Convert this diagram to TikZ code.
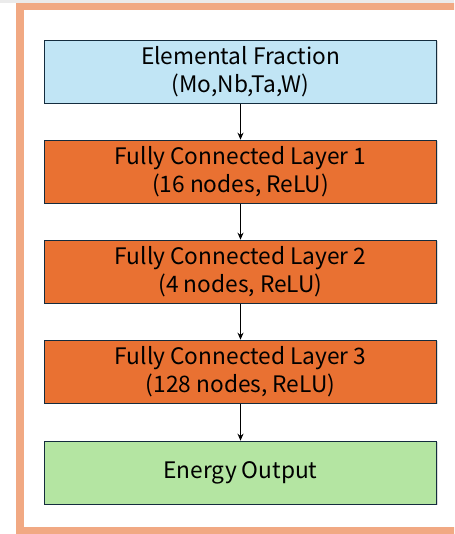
\documentclass[tikz,border=0pt]{standalone}
\usepackage{fontspec}
\setmainfont{Noto Sans CJK JP}
\usetikzlibrary{arrows.meta,shadows}

\definecolor{inputblue}{HTML}{C1E5F5}
\definecolor{layerorange}{HTML}{E97132}
\definecolor{outputgreen}{HTML}{B4E5A2}
\definecolor{framesalmon}{HTML}{F1A983}
\definecolor{edgenavy}{HTML}{142C3E}

\tikzset{
  layerbox/.style={draw=edgenavy, line width=1.6pt, minimum width=392pt,
    minimum height=63pt, align=center, font=\fontsize{22.7}{28}\selectfont,
    text=black, drop shadow={shadow xshift=1.8pt, shadow yshift=-0.6pt,
    opacity=0.35, fill=black!40}},
  flow/.style={-{Stealth[length=7pt,width=6pt]}, line width=1.1pt, black}
}

\begin{document}
\begin{tikzpicture}[x=1pt,y=-1pt]
\useasboundingbox (0,0) rectangle (454,534);
\begin{scope}
\clip (0,0) rectangle (454,534);
% outer frame
\fill[black!8] (0,0) rectangle (454,3);
\draw[framesalmon, line width=7.5pt] (20,6.5) rectangle (470,530.5);
\end{scope}

\node[layerbox, fill=inputblue] (input) at (240.5,72) {Elemental Fraction\\(Mo,Nb,Ta,W)};
\node[layerbox, fill=layerorange] (fc1) at (240.5,172) {Fully Connected Layer 1\\(16 nodes, ReLU)};
\node[layerbox, fill=layerorange] (fc2) at (240.5,272) {Fully Connected Layer 2\\(4 nodes, ReLU)};
\node[layerbox, fill=layerorange] (fc3) at (240.5,372) {Fully Connected Layer 3\\(128 nodes, ReLU)};
\node[layerbox, fill=outputgreen] (output) at (240.5,473) {Energy Output};

\draw[flow] (input) -- (fc1);
\draw[flow] (fc1) -- (fc2);
\draw[flow] (fc2) -- (fc3);
\draw[flow] (fc3) -- (output);
\end{tikzpicture}
\end{document}
